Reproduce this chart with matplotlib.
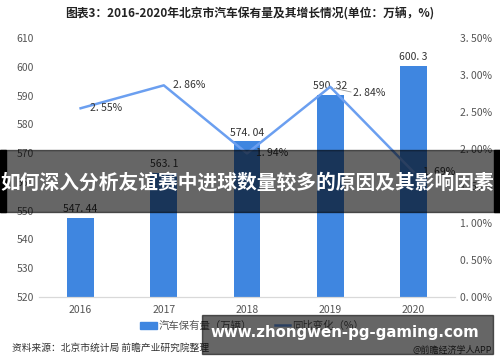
import matplotlib
matplotlib.use("Agg")
import matplotlib.pyplot as plt
from matplotlib.patches import Rectangle

plt.rcParams['font.family'] = ['Noto Sans CJK SC', 'DejaVu Sans']

anios = ["2016", "2017", "2018", "2019", "2020"]
parque = [547.44, 563.1, 574.04, 590.32, 600.3]
variacion = [2.55, 2.86, 1.94, 2.84, 1.69]
etiquetas_parque = ["547. 44", "563. 1", "574. 04", "590. 32", "600. 3"]
etiquetas_var = ["2. 55%", "2. 86%", "1. 94%", "2. 84%", "1. 69%"]
ticks_izq = [520, 530, 540, 550, 560, 570, 580, 590, 600, 610]
ticks_der = [0, 0.5, 1.0, 1.5, 2.0, 2.5, 3.0, 3.5]

color_barra = "#3f86e0"
color_linea = "#6b9ff0"
gris = "#555555"

fig = plt.figure(figsize=(5, 3.62), dpi=100)
ax = fig.add_axes([0.078, 0.18, 0.832, 0.715])
ax2 = ax.twinx()

x = list(range(len(anios)))
ax.bar(x, parque, width=0.32, color=color_barra, zorder=2)
ax.set_ylim(520, 610)
ax.set_xlim(-0.5, 4.5)
ax.set_yticks(ticks_izq)
ax.set_xticks(x)
ax.set_xticklabels(anios)
for i, v in enumerate(parque):
    ax.text(i, v + 1.2, etiquetas_parque[i], ha="center", va="bottom",
            fontsize=7.5, color="#333333")

ax2.plot(x, variacion, color=color_linea, linewidth=1.8, zorder=3)
ax2.set_ylim(0, 3.5)
ax2.set_yticks(ticks_der)
ax2.set_yticklabels([f"{t:.2f}".replace(".", ". ") + "%" for t in ticks_der])

# posiciones de las etiquetas de la linea
desp = [(0.11, 0.0), (0.11, 0.0), (0.11, 0.0), (0.28, -0.08), (0.12, 0.0)]
for i, v in enumerate(variacion):
    dx, dy = desp[i]
    ax2.text(i + dx, v + dy, etiquetas_var[i], ha="left", va="center",
             fontsize=7.5, color="#333333", zorder=4)
ax2.plot([3.05, 3.25], [2.82, 2.77], color="#999999", linewidth=0.6)

for a in (ax, ax2):
    for s in ("top", "left", "right"):
        a.spines[s].set_visible(False)
    a.spines["bottom"].set_color("#d9d9d9")
    a.tick_params(length=0, labelsize=7.5, colors=gris)
ax.tick_params(axis="x", pad=6)

fig.text(0.5, 0.962, "图表3：2016-2020年北京市汽车保有量及其增长情况(单位：万辆，%)",
         ha="center", va="center", fontsize=8.5, fontweight="bold", color="#222222")

# leyenda
fig.patches.append(Rectangle((0.28, 0.092), 0.034, 0.018, transform=fig.transFigure,
                             color=color_barra))
fig.text(0.318, 0.101, "汽车保有量（万辆）", ha="left", va="center", fontsize=7.5, color=gris)
fig.lines.append(plt.Line2D([0.55, 0.58], [0.101, 0.101], transform=fig.transFigure,
                            color=color_linea, linewidth=1.8))
fig.text(0.584, 0.101, "同比变化（%）", ha="left", va="center", fontsize=7.5, color=gris)

fig.text(0.024, 0.04, "资料来源：北京市统计局 前瞻产业研究院整理", ha="left", va="center",
         fontsize=7, color="#333333")
fig.text(0.984, 0.033, "@前瞻经济学人APP", ha="right", va="center", fontsize=6.5,
         color="#333333")

# banda superpuesta
fig.patches.append(Rectangle((0, (362 - 212) / 362), 1, 62 / 362, transform=fig.transFigure,
                             color="black", alpha=0.6, zorder=10))
fig.patches.append(Rectangle((0, (362 - 212) / 362), 6 / 500, 62 / 362, transform=fig.transFigure,
                             color="black", zorder=11))
fig.patches.append(Rectangle((494 / 500, (362 - 212) / 362), 6 / 500, 62 / 362,
                             transform=fig.transFigure, color="black", zorder=11))
fig.text(0.494, (362 - 183) / 362, "如何深入分析友谊赛中进球数量较多的原因及其影响因素",
         ha="center", va="center", fontsize=14.2, fontweight="bold", color="white", zorder=12)

fig.patches.append(Rectangle((202 / 500, (362 - 354) / 362), 291 / 500, 39 / 362,
                             transform=fig.transFigure, color="black", alpha=0.6, zorder=10))
fig.text(345 / 500, (362 - 333) / 362, "www.zhongwen-pg-gaming.com", ha="center", va="center",
         fontsize=10.8, fontweight="bold", color="white", family="DejaVu Sans", zorder=12)

fig.savefig("out.png", dpi=100)
